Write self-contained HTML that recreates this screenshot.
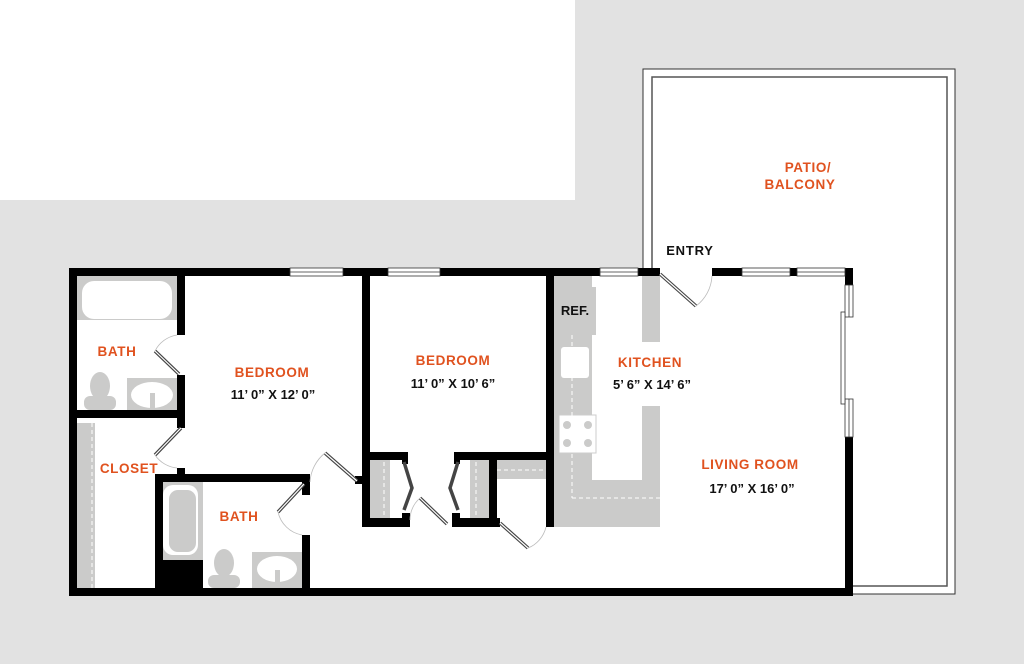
<!DOCTYPE html>
<html><head><meta charset="utf-8"><style>
html,body{margin:0;padding:0;background:#fff}
svg{display:block}
text{font-family:"Liberation Sans",sans-serif;font-weight:bold}
.o{fill:#e0521f;font-size:13.5px;letter-spacing:0.6px}
.d{fill:#111;font-size:13px}
</style></head><body>
<svg width="1024" height="664" viewBox="0 0 1024 664" xmlns="http://www.w3.org/2000/svg">
<!-- background -->
<rect x="0" y="0" width="1024" height="664" fill="#e2e2e2"/>
<rect x="0" y="0" width="575" height="200" fill="#fff"/>
<!-- patio -->
<rect x="643" y="69" width="312" height="525" fill="#fff" stroke="#333" stroke-width="1"/>
<rect x="652" y="77" width="295" height="509" fill="none" stroke="#555" stroke-width="1.5"/>
<!-- apartment interior -->
<rect x="69" y="268" width="784" height="328" fill="#fff"/>
<!-- kitchen gray -->
<g fill="#cbcbca">
<rect x="554" y="276" width="38" height="251"/>
<rect x="554" y="287" width="42" height="48"/>
<rect x="554" y="480" width="106" height="47"/>
<rect x="642" y="276" width="18" height="66"/>
<rect x="642" y="406" width="18" height="121"/>
<rect x="497" y="460" width="49" height="19"/>
<!-- bath1 tub -->
<rect x="77" y="276" width="100" height="44"/>
<!-- bath1 fixtures -->
<rect x="127" y="378" width="50" height="32"/>
<!-- closet strip -->
<rect x="77" y="423" width="18" height="165"/>
<!-- bath2 tub -->
<rect x="163" y="482" width="40" height="78"/>
<rect x="252" y="552" width="50" height="36"/>
<!-- bedroom2 closets -->
<rect x="370" y="460" width="20" height="58"/>
<rect x="470" y="460" width="20" height="58"/>
</g>
<g fill="#fff">
<rect x="82" y="281" width="90" height="38" rx="12"/>
<rect x="163" y="485" width="35" height="70" rx="10" fill="#fff"/>
<ellipse cx="152" cy="395" rx="21" ry="13"/>
<ellipse cx="277" cy="569" rx="20" ry="13"/>
<rect x="561" y="347" width="28" height="31" rx="3"/>
<rect x="559" y="415" width="37" height="38" stroke="#ccc"/>
</g>
<rect x="169" y="490" width="27" height="62" rx="9" fill="#cbcbca"/>
<g fill="#cbcbca">
<rect x="150" y="393" width="5" height="17"/>
<rect x="275" y="570" width="5" height="18"/>
<ellipse cx="100" cy="386" rx="10" ry="14"/>
<rect x="84" y="396" width="32" height="14" rx="6"/>
<ellipse cx="224" cy="563" rx="10" ry="14"/>
<rect x="208" y="575" width="32" height="13" rx="6"/>
<circle cx="567" cy="425" r="4"/><circle cx="588" cy="425" r="4"/>
<circle cx="567" cy="443" r="4"/><circle cx="588" cy="443" r="4"/>
</g>
<g stroke="#fff" stroke-width="1" stroke-dasharray="4,3" fill="none">
<line x1="92" y1="423" x2="92" y2="588"/>
<line x1="384" y1="462" x2="384" y2="518"/>
<line x1="476" y1="462" x2="476" y2="518"/>
<line x1="497" y1="470" x2="546" y2="470"/>
<line x1="572" y1="498" x2="660" y2="498"/>
<line x1="572" y1="335" x2="572" y2="498"/>
</g>
<!-- walls -->
<g fill="#000">
<rect x="69" y="268" width="221" height="8"/>
<rect x="343" y="268" width="45" height="8"/>
<rect x="440" y="268" width="160" height="8"/>
<rect x="638" y="268" width="22" height="8"/>
<rect x="712" y="268" width="30" height="8"/>
<rect x="790" y="268" width="7" height="8"/>
<rect x="845" y="268" width="8" height="17"/>
<rect x="845" y="437" width="8" height="159"/>
<rect x="69" y="268" width="8" height="328"/>
<rect x="69" y="588" width="784" height="8"/>
<!-- bath1 -->
<rect x="177" y="276" width="8" height="59"/>
<rect x="177" y="375" width="8" height="43"/>
<rect x="77" y="410" width="108" height="8"/>
<rect x="177" y="418" width="8" height="10"/>
<rect x="177" y="468" width="8" height="8"/>
<!-- bath2 -->
<rect x="155" y="474" width="155" height="8"/>
<rect x="155" y="474" width="8" height="114"/>
<rect x="302" y="482" width="8" height="13"/>
<rect x="302" y="535" width="8" height="53"/>
<rect x="155" y="560" width="48" height="28"/>
<!-- bedroom divider -->
<rect x="362" y="276" width="8" height="251"/>
<rect x="355" y="476" width="8" height="8"/>
<rect x="362" y="452" width="46" height="8"/>
<rect x="362" y="518" width="48" height="9"/>
<rect x="402" y="452" width="6" height="12"/>
<rect x="402" y="513" width="8" height="14"/>
<rect x="454" y="452" width="92" height="8"/>
<rect x="454" y="452" width="6" height="12"/>
<rect x="452" y="513" width="8" height="14"/>
<rect x="452" y="518" width="48" height="9"/>
<rect x="489" y="460" width="8" height="67"/>
<rect x="546" y="276" width="8" height="251"/>
</g>
<!-- windows -->
<g fill="#fff" stroke="#333" stroke-width="0.8">
<rect x="290" y="268" width="53" height="8"/>
<rect x="388" y="268" width="52" height="8"/>
<rect x="600" y="268" width="38" height="8"/>
<rect x="742" y="268" width="48" height="8"/>
<rect x="797" y="268" width="48" height="8"/>
<rect x="845" y="285" width="8" height="32"/>
<rect x="845" y="399" width="8" height="38"/>
<rect x="841" y="312" width="4" height="92"/>
</g>
<g stroke="#333" stroke-width="0.8">
<line x1="290" y1="272" x2="343" y2="272"/><line x1="388" y1="272" x2="440" y2="272"/>
<line x1="600" y1="272" x2="638" y2="272"/><line x1="742" y1="272" x2="790" y2="272"/>
<line x1="797" y1="272" x2="845" y2="272"/><line x1="849" y1="285" x2="849" y2="317"/>
<line x1="849" y1="399" x2="849" y2="437"/>
</g>
<!-- doors -->
<g stroke="#444" stroke-width="3.5" fill="none">
<line x1="660" y1="274" x2="696" y2="306"/>
<line x1="179" y1="374" x2="155" y2="351"/>
<line x1="181" y1="428" x2="155" y2="455"/>
<line x1="304" y1="484" x2="278" y2="512"/>
<line x1="357" y1="481" x2="325" y2="453"/>
<line x1="420" y1="498" x2="447" y2="524"/>
<line x1="500" y1="523" x2="528" y2="548"/>
<path d="M404 462 L412 488 L404 510"/>
<path d="M458 462 L450 488 L458 510"/>
</g>
<g stroke="#fff" stroke-width="1.2" fill="none">
<line x1="660" y1="274" x2="696" y2="306"/>
<line x1="179" y1="374" x2="155" y2="351"/>
<line x1="181" y1="428" x2="155" y2="455"/>
<line x1="304" y1="484" x2="278" y2="512"/>
<line x1="357" y1="481" x2="325" y2="453"/>
<line x1="420" y1="498" x2="447" y2="524"/>
<line x1="500" y1="523" x2="528" y2="548"/>
</g>
<g stroke="#bbb" stroke-width="0.8" fill="none">
<path d="M696 306 A40 40 0 0 0 712 276"/>
<path d="M155 351 A30 30 0 0 1 177 335"/>
<path d="M155 455 A30 30 0 0 0 177 468"/>
<path d="M278 512 A30 30 0 0 0 302 535"/>
<path d="M325 453 A40 40 0 0 0 310 482"/>
<path d="M420 498 A30 30 0 0 0 410 520"/>
<path d="M528 548 A30 30 0 0 0 546 527"/>
</g>
<!-- labels -->
<text class="o" x="808" y="172" text-anchor="middle">PATIO/</text>
<text class="o" x="800" y="189" text-anchor="middle">BALCONY</text>
<text class="d" x="690" y="255" text-anchor="middle" style="letter-spacing:0.8px">ENTRY</text>
<text class="d" x="575" y="315" text-anchor="middle">REF.</text>
<text class="o" x="117" y="356" text-anchor="middle">BATH</text>
<text class="o" x="272" y="377" text-anchor="middle">BEDROOM</text>
<text class="d" x="273" y="399" text-anchor="middle">11’ 0” X 12’ 0”</text>
<text class="o" x="453" y="365" text-anchor="middle">BEDROOM</text>
<text class="d" x="453" y="388" text-anchor="middle">11’ 0” X 10’ 6”</text>
<text class="o" x="650" y="367" text-anchor="middle">KITCHEN</text>
<text class="d" x="652" y="389" text-anchor="middle">5’ 6” X 14’ 6”</text>
<text class="o" x="129" y="473" text-anchor="middle">CLOSET</text>
<text class="o" x="239" y="521" text-anchor="middle">BATH</text>
<text class="o" x="750" y="469" text-anchor="middle">LIVING ROOM</text>
<text class="d" x="752" y="493" text-anchor="middle">17’ 0” X 16’ 0”</text>
</svg>
</body></html>
